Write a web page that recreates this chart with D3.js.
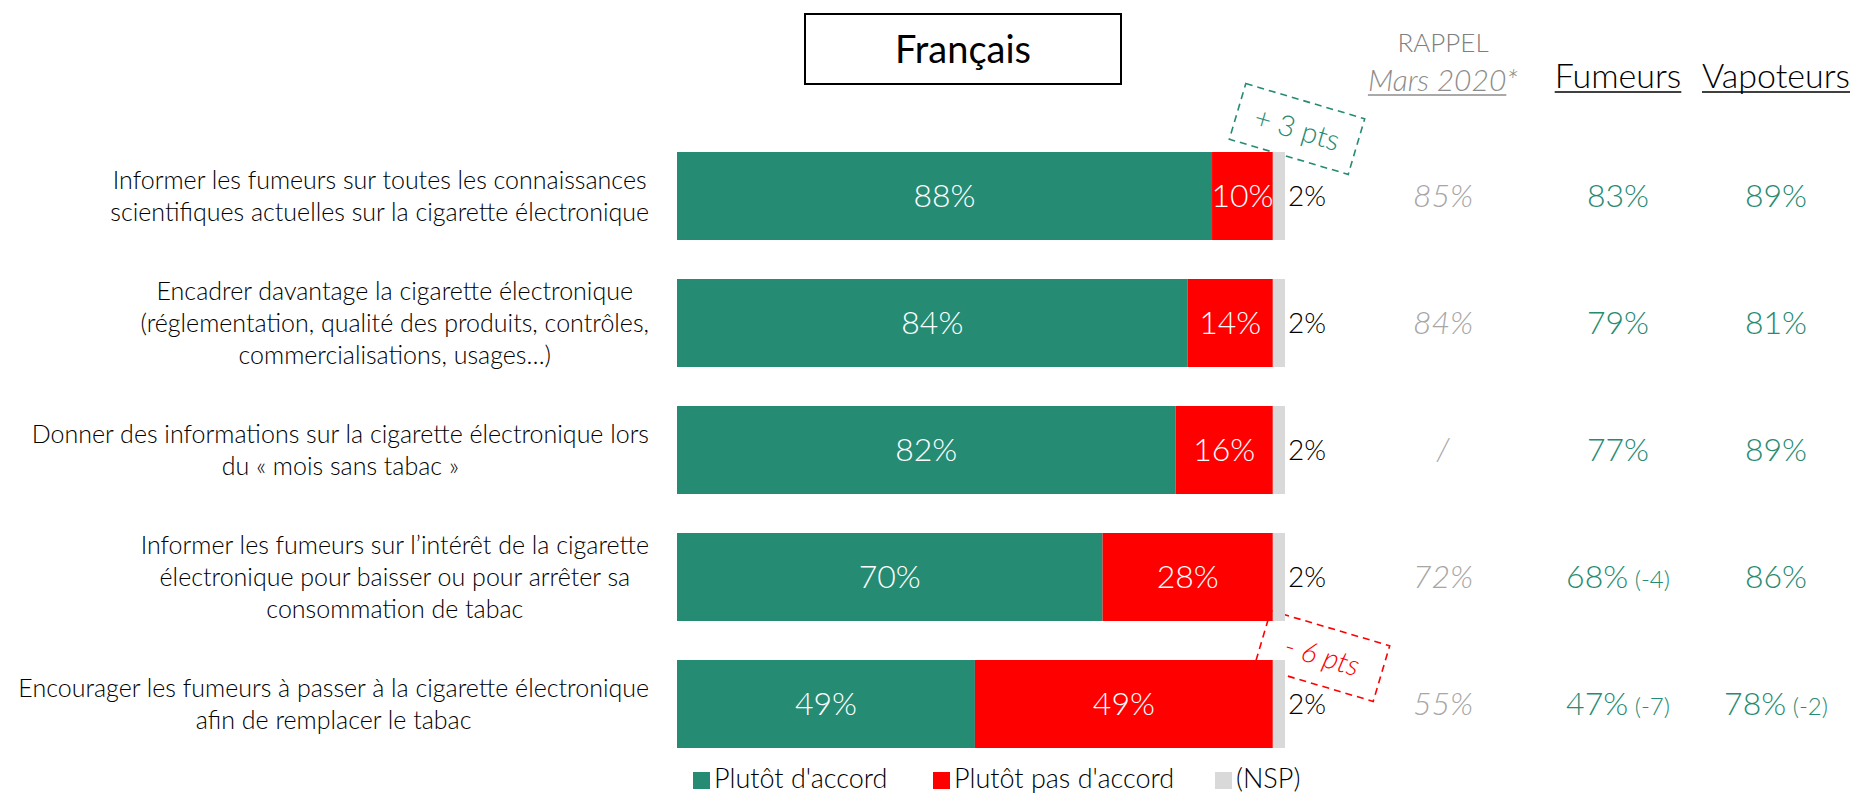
<!DOCTYPE html>
<html>
<head>
<meta charset="utf-8">
<script src="https://cdn.jsdelivr.net/npm/d3@7"></script>
<style>
  body { margin: 0; background: #fff; }
  text { font-family: Lato, "Open Sans", sans-serif; font-weight: 300; }
</style>
</head>
<body>
<div id="chart"></div>
<script>
// data
const categories = [
  ["Informer les fumeurs sur toutes les connaissances", "scientifiques actuelles sur la cigarette électronique"],
  ["Encadrer davantage la cigarette électronique", "(réglementation, qualité des produits, contrôles,", "commercialisations, usages…)"],
  ["Donner des informations sur la cigarette électronique lors", "du « mois sans tabac »"],
  ["Informer les fumeurs sur l’intérêt de la cigarette", "électronique pour baisser ou pour arrêter sa", "consommation de tabac"],
  ["Encourager les fumeurs à passer à la cigarette électronique", "afin de remplacer le tabac"]
];
const agree     = [88, 84, 82, 70, 49];
const disagree  = [10, 14, 16, 28, 49];
const nsp       = [2, 2, 2, 2, 2];
const rappel    = [85, 84, null, 72, 55];
const fumeurs   = [83, 79, 77, 68, 47];
const fumeursDiff = [null, null, null, -4, -7];
const vapoteurs = [89, 81, 89, 86, 78];
const vapoteursDiff = [null, null, null, null, -2];
const seriesNames = ["Plutôt d'accord", "Plutôt pas d'accord", "(NSP)"];
const evolutions = [{row: 0, label: "+ 3 pts", up: true}, {row: 4, label: "- 6 pts", up: false}];

const width = 1858, height = 795;
const green = "#268B73", red = "#FF0000", grey = "#D9D9D9";

const svg = d3.select("#chart").append("svg")
    .attr("width", width)
    .attr("height", height);

const x = d3.scaleLinear().domain([0, 100]).range([677, 1285]);
const y = d3.scaleBand().domain(d3.range(categories.length))
    .range([152, 748]).paddingInner(0.307).paddingOuter(0);

const keys = ["agree", "disagree", "nsp"];
const color = d3.scaleOrdinal().domain(keys).range([green, red, grey]);
const table = categories.map((c, i) => ({i, agree: agree[i], disagree: disagree[i], nsp: nsp[i]}));
const stacked = d3.stack().keys(keys)(table);

// title box
svg.append("rect")
    .attr("x", 805).attr("y", 14).attr("width", 316).attr("height", 70)
    .attr("fill", "none").attr("stroke", "#000").attr("stroke-width", 2);
svg.append("text")
    .attr("x", 963).attr("y", 50).attr("dy", "0.35em")
    .attr("text-anchor", "middle").attr("font-size", 38).style("font-weight", 400)
    .text("Français");

// evolution boxes (drawn behind the bars)
const evo = svg.append("g");
evolutions.forEach(e => {
  const cx = e.up ? x(100) + 12 : x(100) + 37;
  const cy = e.up ? y(e.row) - 23 : y(e.row) - 4;
  const c = e.up ? green : red;
  const g = evo.append("g").attr("transform", `translate(${cx},${cy}) rotate(16.5)`);
  g.append("rect")
      .attr("x", -62).attr("y", -29).attr("width", 124).attr("height", 58)
      .attr("fill", "none").attr("stroke", c).attr("stroke-width", 1.6)
      .attr("stroke-dasharray", "7,5");
  g.append("text")
      .attr("text-anchor", "middle").attr("dy", "0.35em")
      .attr("font-size", 29).attr("fill", c)
      .style("font-style", e.up ? "normal" : "italic")
      .text(e.label);
});

// bars
svg.append("g").selectAll("g")
  .data(stacked)
  .join("g")
    .attr("fill", d => color(d.key))
  .selectAll("rect")
  .data(d => d)
  .join("rect")
    .attr("x", d => x(d[0]))
    .attr("y", d => y(d.data.i))
    .attr("width", d => x(d[1]) - x(d[0]))
    .attr("height", y.bandwidth());

// bar labels
const labels = svg.append("g");
stacked.slice(0, 2).forEach(s => {
  labels.selectAll(null)
    .data(s)
    .join("text")
      .attr("x", d => (x(d[0]) + x(d[1])) / 2)
      .attr("y", d => y(d.data.i) + y.bandwidth() / 2)
      .attr("dy", "0.35em")
      .attr("text-anchor", "middle")
      .attr("font-size", 32)
      .attr("fill", "#fff")
      .text(d => (d[1] - d[0]) + "%");
});
labels.selectAll(null)
  .data(stacked[2])
  .join("text")
    .attr("x", d => x(d[1]) + 3)
    .attr("y", d => y(d.data.i) + y.bandwidth() / 2)
    .attr("dy", "0.35em")
    .attr("font-size", 28)
    .attr("fill", "#000")
    .text(d => (d[1] - d[0]) + "%");

// category labels, each block centred and right-aligned to the bars
const catG = svg.append("g");
categories.forEach((lines, i) => {
  const t = catG.append("text")
      .attr("text-anchor", "middle")
      .attr("font-size", 25)
      .attr("fill", "#000");
  const cy = y(i) + y.bandwidth() / 2;
  const n = lines.length;
  lines.forEach((l, j) => {
    t.append("tspan")
      .attr("y", cy + (j - (n - 1) / 2) * 32)
      .attr("dy", "0.35em")
      .text(l);
  });
  let maxW = 0;
  t.selectAll("tspan").each(function() { maxW = Math.max(maxW, this.getComputedTextLength()); });
  t.selectAll("tspan").attr("x", 649 - maxW / 2);
});

// side columns
const colRappel = 1443, colFum = 1618, colVap = 1776;
const head = svg.append("g");
head.append("text").attr("x", colRappel).attr("y", 43).attr("dy", "0.35em")
    .attr("text-anchor", "middle").attr("font-size", 26).attr("fill", "#7f7f7f").text("RAPPEL");
const mars = head.append("text").attr("x", colRappel).attr("y", 80).attr("dy", "0.35em")
    .attr("text-anchor", "middle").attr("font-size", 30).attr("fill", "#8c8c8c")
    .style("font-style", "italic");
mars.append("tspan").attr("class", "ul").text("Mars 2020");
mars.append("tspan").text("*");

[["Fumeurs", colFum], ["Vapoteurs", colVap]].forEach(([t, cx]) => {
  head.append("text").attr("x", cx).attr("y", 76).attr("dy", "0.35em")
      .attr("text-anchor", "middle").attr("font-size", 34).attr("fill", "#000")
      .attr("class", "ulh").text(t);
});

// underlines
head.selectAll("text.ulh").each(function() {
  const b = this.getBBox();
  head.append("line").attr("x1", b.x).attr("x2", b.x + b.width)
      .attr("y1", 92).attr("y2", 92).attr("stroke", "#000").attr("stroke-width", 1.6);
});
{
  const tsp = mars.select("tspan.ul").node();
  const start = tsp.getStartPositionOfChar(0).x;
  const w = tsp.getComputedTextLength();
  head.append("line").attr("x1", start).attr("x2", start + w)
      .attr("y1", 95).attr("y2", 95).attr("stroke", "#8c8c8c").attr("stroke-width", 1.6);
}

const vals = svg.append("g");
categories.forEach((c, i) => {
  const cy = y(i) + y.bandwidth() / 2;
  vals.append("text").attr("x", colRappel).attr("y", cy).attr("dy", "0.35em")
      .attr("text-anchor", "middle").attr("font-size", 32).attr("fill", "#a6a6a6")
      .style("font-style", "italic")
      .text(rappel[i] == null ? "/" : rappel[i] + "%");
  [[fumeurs, fumeursDiff, colFum], [vapoteurs, vapoteursDiff, colVap]].forEach(([v, dv, cx]) => {
    const t = vals.append("text").attr("x", cx).attr("y", cy).attr("dy", "0.35em")
        .attr("text-anchor", "middle").attr("font-size", 32).attr("fill", green);
    t.append("tspan").text(v[i] + "%");
    if (dv[i] != null) t.append("tspan").attr("font-size", 24).text(" (" + dv[i] + ")");
  });
});

// legend
const leg = svg.append("g");
const legX = [693, 933, 1215];
seriesNames.forEach((name, k) => {
  leg.append("rect").attr("x", legX[k]).attr("y", 772).attr("width", 17).attr("height", 17)
      .attr("fill", color(keys[k]));
  leg.append("text").attr("x", legX[k] + 21).attr("y", 779).attr("dy", "0.35em")
      .attr("font-size", 27).attr("fill", "#000").text(name);
});
</script>
</body>
</html>
